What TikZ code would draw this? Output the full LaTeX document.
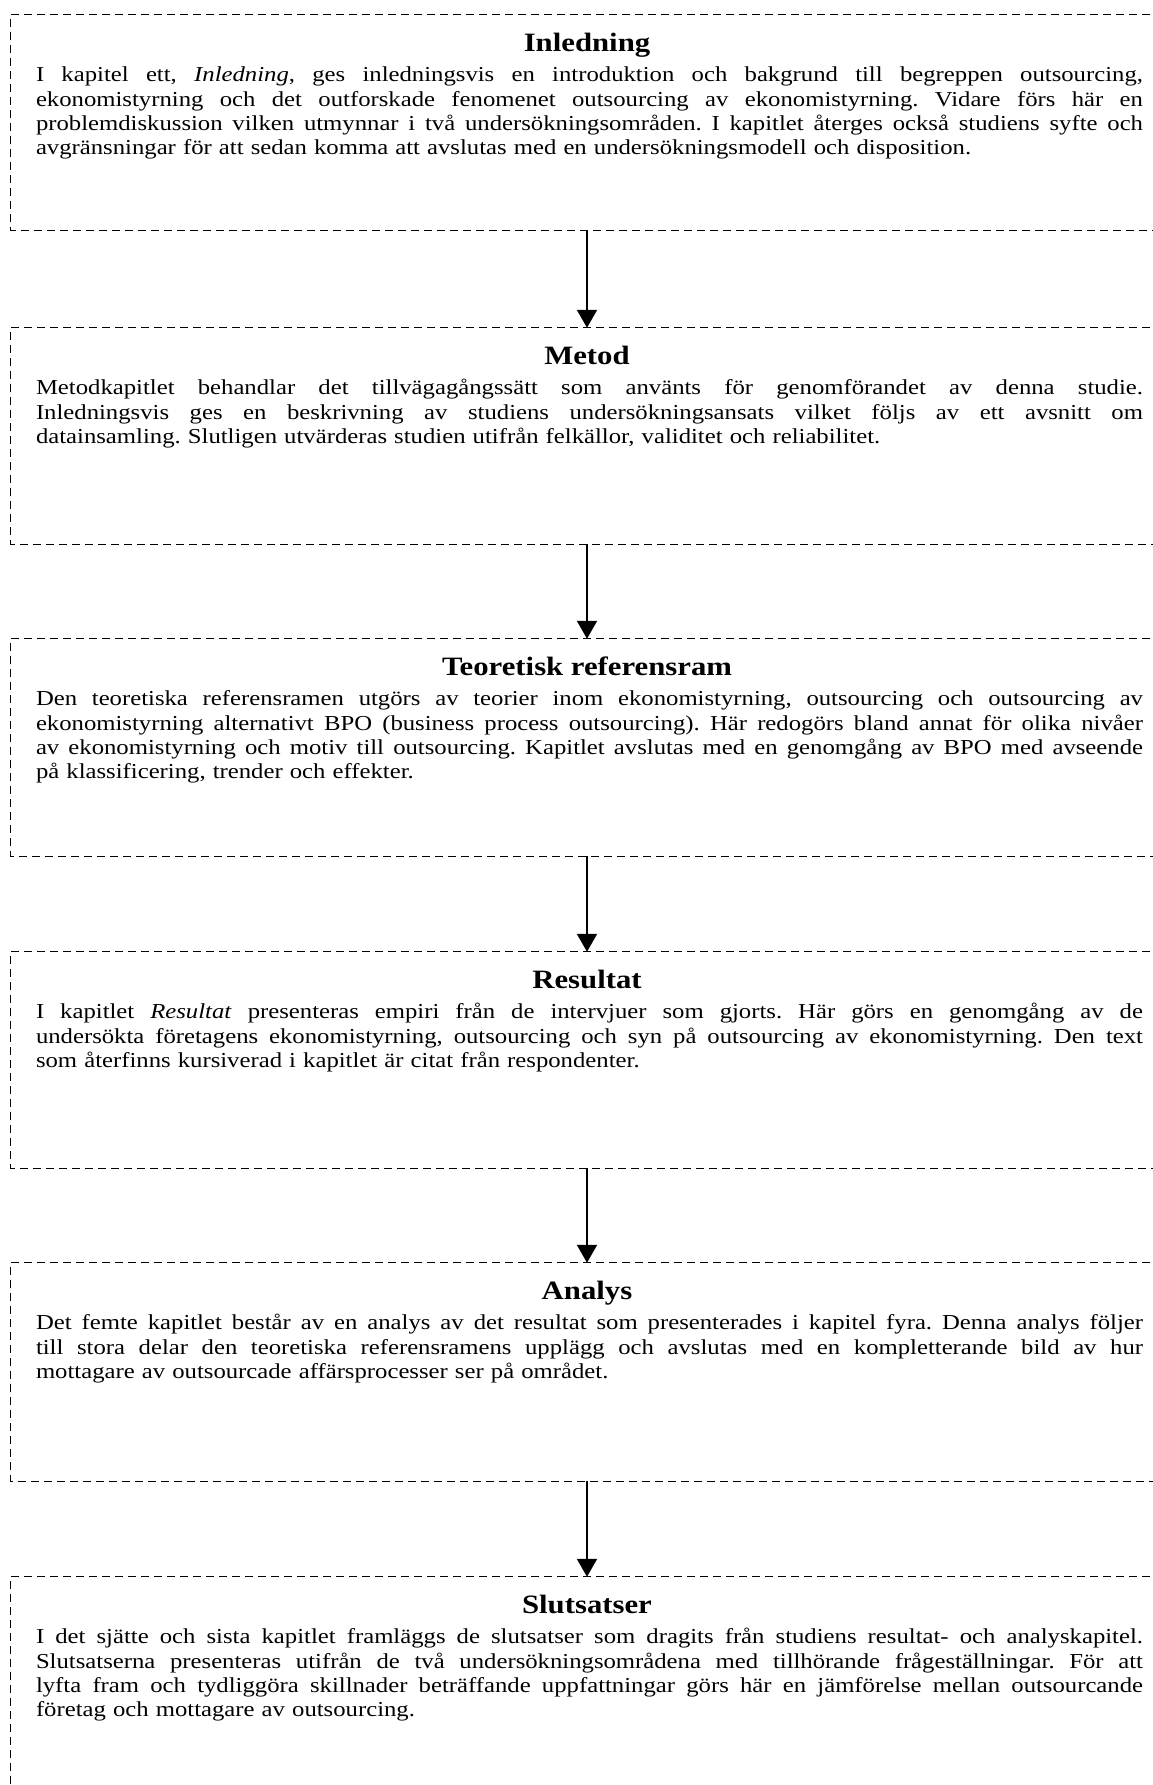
\documentclass[tikz,border=0pt]{standalone}
\usepackage{fontspec}
\setmainfont[FakeStretch=1.16]{Liberation Serif}
\usetikzlibrary{arrows.meta,calc}

% one justified line of body text, spaces stretched to the full column
\newcommand\fullline[1]{\makebox[1107pt][s]{\spaceskip=\fontdimen2\font plus 1fil\relax#1}}

\tikzset{
  chapter/.style={draw=none, minimum width=1152pt, inner sep=0pt},
  openbox/.style={line width=1.3pt, dash pattern=on 8pt off 5pt},
  flow/.style={line width=2pt, -{Triangle[length=18pt,width=20pt]}},
  title/.style={anchor=base, inner sep=0pt, font=\fontsize{26.5}{30}\selectfont\bfseries},
  body/.style={anchor=base west, inner sep=0pt, text width=1107pt, align=left,
    font=\fontsize{21.3}{24.2}\selectfont\frenchspacing},
}

\begin{document}
\begin{tikzpicture}[x=1pt,y=1pt]
\useasboundingbox (0,0) rectangle (1152,-1785);

% chapter frames (open on the right)
\node[chapter, minimum height=215pt] (b1) at (587,-122.5) {};
\node[chapter, minimum height=216pt] (b2) at (587,-436) {};
\node[chapter, minimum height=217pt] (b3) at (587,-747.5) {};
\node[chapter, minimum height=216pt] (b4) at (587,-1060) {};
\node[chapter, minimum height=218pt] (b5) at (587,-1372) {};
\node[chapter, minimum height=240pt] (b6) at (587,-1697) {};

\foreach \b in {b1,b2,b3,b4,b5}
  \draw[openbox] (\b.north east) -- (\b.north west) -- (\b.south west) -- (\b.south east);
\draw[openbox] (b6.north east) -- (b6.north west) -- (b6.south west);

% arrows between chapters
\draw[flow] (b1.south) -- (b2.north);
\draw[flow] (b2.south) -- (b3.north);
\draw[flow] (b3.south) -- (b4.north);
\draw[flow] (b4.south) -- (b5.north);
\draw[flow] (b5.south) -- (b6.north);

% titles
\node[title] (t1) at ($(b1.north)+(0,-37)$) {Inledning};
\node[title] (t2) at ($(b2.north)+(0,-37)$) {Metod};
\node[title] (t3) at ($(b3.north)+(0,-37)$) {Teoretisk referensram};
\node[title] (t4) at ($(b4.north)+(0,-37)$) {Resultat};
\node[title] (t5) at ($(b5.north)+(0,-37)$) {Analys};
\node[title] (t6) at ($(b6.north)+(0,-37)$) {Slutsatser};

% descriptions
\node[body] (d1) at ($(b1.north west)+(25,-67)$) {%
\fullline{I kapitel ett, \textit{Inledning}, ges inledningsvis en introduktion och bakgrund till begreppen outsourcing,}\\
\fullline{ekonomistyrning och det outforskade fenomenet outsourcing av ekonomistyrning. Vidare förs här en}\\
\fullline{problemdiskussion vilken utmynnar i två undersökningsområden. I kapitlet återges också studiens syfte och}\\
avgränsningar för att sedan komma att avslutas med en undersökningsmodell och disposition.};

\node[body] (d2) at ($(b2.north west)+(25,-67)$) {%
\fullline{Metodkapitlet behandlar det tillvägagångssätt som använts för genomförandet av denna studie.}\\
\fullline{Inledningsvis ges en beskrivning av studiens undersökningsansats vilket följs av ett avsnitt om}\\
datainsamling. Slutligen utvärderas studien utifrån felkällor, validitet och reliabilitet.};

\node[body] (d3) at ($(b3.north west)+(25,-67)$) {%
\fullline{Den teoretiska referensramen utgörs av teorier inom ekonomistyrning, outsourcing och outsourcing av}\\
\fullline{ekonomistyrning alternativt BPO (business process outsourcing). Här redogörs bland annat för olika nivåer}\\
\fullline{av ekonomistyrning och motiv till outsourcing. Kapitlet avslutas med en genomgång av BPO med avseende}\\
på klassificering, trender och effekter.};

\node[body] (d4) at ($(b4.north west)+(25,-67)$) {%
\fullline{I kapitlet \textit{Resultat} presenteras empiri från de intervjuer som gjorts. Här görs en genomgång av de}\\
\fullline{undersökta företagens ekonomistyrning, outsourcing och syn på outsourcing av ekonomistyrning. Den text}\\
som återfinns kursiverad i kapitlet är citat från respondenter.};

\node[body] (d5) at ($(b5.north west)+(25,-67)$) {%
\fullline{Det femte kapitlet består av en analys av det resultat som presenterades i kapitel fyra. Denna analys följer}\\
\fullline{till stora delar den teoretiska referensramens upplägg och avslutas med en kompletterande bild av hur}\\
mottagare av outsourcade affärsprocesser ser på området.};

\node[body] (d6) at ($(b6.north west)+(25,-67)$) {%
\fullline{I det sjätte och sista kapitlet framläggs de slutsatser som dragits från studiens resultat- och analyskapitel.}\\
\fullline{Slutsatserna presenteras utifrån de två undersökningsområdena med tillhörande frågeställningar. För att}\\
\fullline{lyfta fram och tydliggöra skillnader beträffande uppfattningar görs här en jämförelse mellan outsourcande}\\
företag och mottagare av outsourcing.};
\end{tikzpicture}
\end{document}
